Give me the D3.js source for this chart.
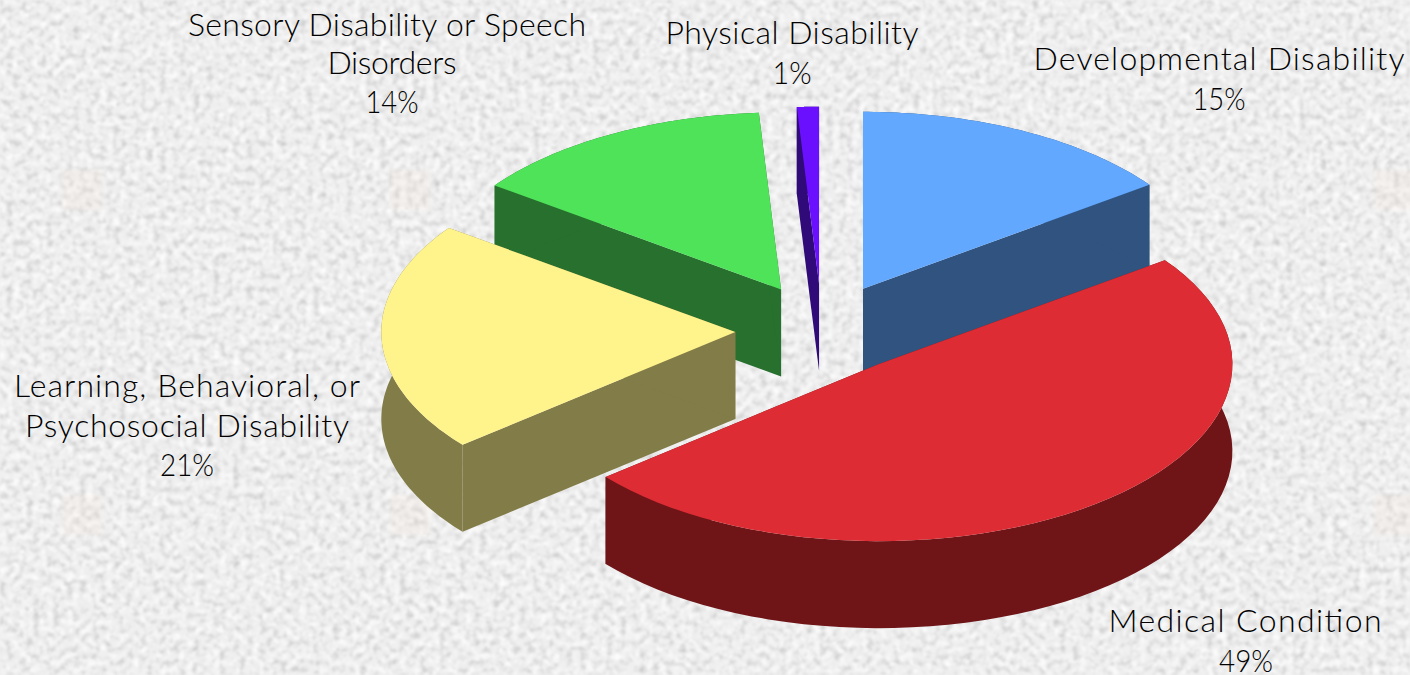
<!DOCTYPE html>
<html><head><meta charset="utf-8">
<script src="https://cdn.jsdelivr.net/npm/d3@7/dist/d3.min.js"></script>
<style>html,body{margin:0;padding:0;background:#f3f3f3;overflow:hidden}svg{display:block}text{font-family:Lato,sans-serif;fill:#000;font-weight:300}</style>
</head><body>
<svg id="c" width="1410" height="675"></svg>
<script>
const categories = ["Developmental Disability","Medical Condition","Learning, Behavioral, or Psychosocial Disability","Sensory Disability or Speech Disorders","Physical Disability"];
const values = [15,49,21,14,1];
const topColors = ["#62a8ff","#dd2c33","#fff38c","#4fe35a","#6a10ff"];
const wallColors = ["#30547f","#6f1518","#827c48","#27702e","#2f0a78"];
const explodeX = [0.255,0.26,0.245,0.24,0.265];
const explodeY = [0.265,0.24,0.245,0.265,0.265];
const labelLines = [["Developmental Disability","15%"],["Medical Condition","49%"],["Learning, Behavioral, or","Psychosocial Disability","21%"],["Sensory Disability or Speech","Disorders","14%"],["Physical Disability","1%"]];
const labelWidths = [[371,53],[273,54],[346,324,54],[398,129,53],[253,39]];
const labelX = [[1219,1219],[1245,1246],[187,187,187],[387,392,392],[792,792]];
const labelY = [[70,110],[632,671.5],[397,436.5,476],[36,73.5,113],[44,84]];
const watermarkX = [82,410,738,1066,1394];
const watermarkY = [190,515];

const W=1410,H=675,cx=822,cy=330.6,rx=354,ry=177,depth=87;
const svg=d3.select("#c");
const defs=svg.append("defs");
const f=defs.append("filter").attr("id","paper").attr("x",0).attr("y",0).attr("width","100%").attr("height","100%");
f.append("feTurbulence").attr("type","fractalNoise").attr("baseFrequency",0.15).attr("numOctaves",3).attr("seed",11).attr("result","n");
f.append("feColorMatrix").attr("in","n").attr("type","matrix").attr("values","0 0 0 0 0  0 0 0 0 0  0 0 0 0 0  1.7 0 0 0 -0.74").attr("result","a");
f.append("feGaussianBlur").attr("in","a").attr("stdDeviation",1).attr("result","b");
f.append("feColorMatrix").attr("in","n").attr("type","matrix").attr("values","0 0 0 0 0  0 0 0 0 0  0 0 0 0 0  0 1.9 0 0 -0.72").attr("result","a2");
f.append("feGaussianBlur").attr("in","a2").attr("stdDeviation",1).attr("result","b2");
f.append("feFlood").attr("flood-color","#f0f0f0").attr("result","bg");
f.append("feFlood").attr("flood-color","#bcbcbc").attr("result","dk");
f.append("feFlood").attr("flood-color","#ffffff").attr("result","lt");
f.append("feComposite").attr("in","dk").attr("in2","b").attr("operator","in").attr("result","sp");
f.append("feComposite").attr("in","lt").attr("in2","b2").attr("operator","in").attr("result","sp2");
const m=f.append("feMerge");m.append("feMergeNode").attr("in","bg");m.append("feMergeNode").attr("in","sp2");m.append("feMergeNode").attr("in","sp");
svg.append("rect").attr("width",W).attr("height",H).attr("filter","url(#paper)");
const wb=defs.append("filter").attr("id","soft");wb.append("feGaussianBlur").attr("stdDeviation",2);
watermarkY.forEach(y=>watermarkX.forEach(x=>svg.append("rect").attr("x",x-20).attr("y",y-20).attr("width",40).attr("height",40)
  .attr("fill","#f3e3d8").attr("opacity",0.22).attr("filter","url(#soft)")));

const pie=d3.pie().sort(null).value(d=>d)(values);
const line=d3.line();
const pt=(c,a,dy=0)=>[c[0]+rx*Math.sin(a),c[1]-ry*Math.cos(a)+dy];
const slices=pie.map((p,i)=>{const mid=(p.startAngle+p.endAngle)/2;
  return {i,p,c:[cx+explodeX[i]*rx*Math.sin(mid),cy-explodeY[i]*ry*Math.cos(mid)]};});
const arcPts=(s,a0,a1,dy=0)=>d3.range(0,61).map(k=>pt(s.c,a0+(a1-a0)*k/60,dy));
// painter's order: back slices first
const order=[0,3,4,2,1];
order.forEach(i=>{const s=slices[i],a0=s.p.startAngle,a1=s.p.endAngle;
  const g=svg.append("g");
  const low=[s.c[0],s.c[1]+depth];
  g.append("path").attr("d",line([s.c,pt(s.c,a0),pt(s.c,a0,depth),low])+"Z").attr("fill",wallColors[i]);
  g.append("path").attr("d",line([s.c,pt(s.c,a1),pt(s.c,a1,depth),low])+"Z").attr("fill",wallColors[i]);
  g.append("path").attr("d",line([...arcPts(s,a0,a1),...arcPts(s,a0,a1,depth).reverse()])+"Z").attr("fill",wallColors[i]);
  g.append("path").attr("d",line([s.c,...arcPts(s,a0,a1)])+"Z").attr("fill",topColors[i]);
});
labelLines.forEach((ls,i)=>ls.forEach((t,j)=>{
  const pct=t.endsWith("%");
  svg.append("text").attr("x",labelX[i][j]).attr("y",labelY[i][j]).attr("text-anchor","middle")
   .attr("font-size",32).attr("textLength",labelWidths[i][j]).attr("lengthAdjust",pct?"spacingAndGlyphs":"spacing").text(t);
}));
</script>
</body></html>
